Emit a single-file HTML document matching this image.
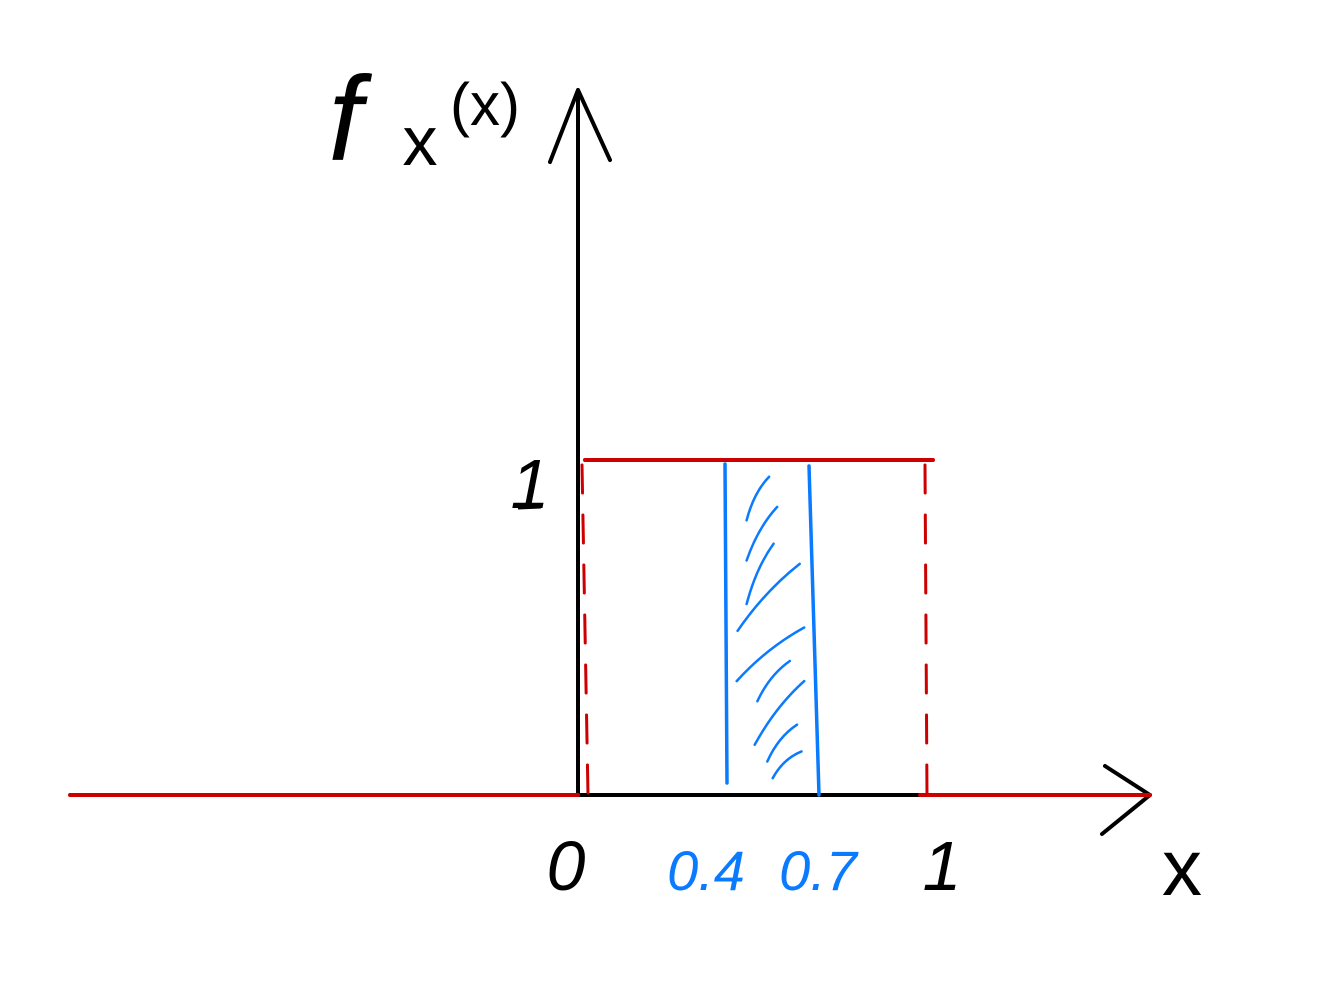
<!DOCTYPE html>
<html><head><meta charset="utf-8">
<style>
html,body{margin:0;padding:0;background:#fff;}
svg{display:block;}
text{font-family:"Liberation Sans",sans-serif;}
</style></head>
<body>
<svg id="chart" width="1336" height="999" viewBox="0 0 1336 999" xmlns="http://www.w3.org/2000/svg">
  <g id="axes"></g>
  <g id="marks"></g>
  <g id="labels"></g>
</svg>
<script>
const supportBounds = [0, 1];
const densityValue = [1];
const shadedInterval = [0.4, 0.7];
const xTickLabels = ["0", "0.4", "0.7", "1"];
const xTickValues = [0, 0.4, 0.7, 1];
const yTickLabels = ["1"];
const yTickValues = [1];

const NS = "http://www.w3.org/2000/svg";
const X0 = 578, XS = 350, Y0 = 795, YS = 335;
const sx = v => X0 + v * XS;
const sy = v => Y0 - v * YS;
const RED = "#cc0000", BLUE = "#0a7aff", BLACK = "#000";

function el(tag, attrs, parent) {
  const e = document.createElementNS(NS, tag);
  for (const k in attrs) e.setAttribute(k, attrs[k]);
  parent.appendChild(e);
  return e;
}
const axes = document.getElementById("axes");
const marks = document.getElementById("marks");
const labels = document.getElementById("labels");
const common = {"stroke-linecap": "round", "stroke-linejoin": "round", fill: "none"};

let e = el("path", Object.assign({d: "M578 795 L578 90 M550 162 L578 90 L610 160", stroke: BLACK, "stroke-width": 4}, common), axes);


e = el("path", Object.assign({d: "M578 795 L1150 795 M1105 766 L1150 795 L1102 834", stroke: BLACK, "stroke-width": 4}, common), axes);



const a = supportBounds[0], b = supportBounds[1], d = densityValue[0];
e = el("path", Object.assign({d: `M70 ${sy(0)} L${sx(a)} ${sy(0)}`, stroke: RED, "stroke-width": 4}, common), marks);


e = el("path", Object.assign({d: `M${sx(b) - 8} ${sy(0)} L1150 ${sy(0)}`, stroke: RED, "stroke-width": 4}, common), marks);


e = el("path", Object.assign({d: `M${sx(a) + 7} ${sy(d)} L${sx(b) + 5} ${sy(d)}`, stroke: RED, "stroke-width": 4}, common), marks);


[a, b].forEach((v, i) => {
  const off = i === 0 ? 4 : -3;
  const ln = el("line", {x1: sx(v) + off, y1: sy(d) + 5, x2: sx(v) + off + (i === 0 ? 6 : 2), y2: sy(0), stroke: RED, "stroke-width": 3, "stroke-dasharray": "28 22", "stroke-linecap": "round"}, marks);
  
  
});

const p = sx(shadedInterval[0]) + 7, q = sx(shadedInterval[1]) - 8;
e = el("line", {x1: p, y1: sy(d) + 4, x2: p + 2, y2: sy(0) - 12, stroke: BLUE, "stroke-width": 3.5, "stroke-linecap": "round"}, marks);


e = el("line", {x1: q - 6, y1: sy(d) + 6, x2: q + 4, y2: sy(0), stroke: BLUE, "stroke-width": 3.5, "stroke-linecap": "round"}, marks);


// hatching strokes: [xFrac1, yVal1, xFrac2, yVal2] within interval
const hatch = [[0.24,0.82,0.49,0.95],[0.24,0.70,0.58,0.86],[0.24,0.57,0.54,0.75],[0.14,0.49,0.83,0.69],[0.13,0.34,0.88,0.50],[0.36,0.28,0.72,0.40],[0.33,0.15,0.88,0.34],[0.47,0.10,0.80,0.21],[0.53,0.05,0.85,0.13]];
hatch.forEach(h => {
  const w = q - p;
  const x1 = p + h[0]*w, y1 = sy(h[1]), x2 = p + h[2]*w, y2 = sy(h[3]);
  const ln = el("path", Object.assign({d: `M${x1} ${y1} Q ${(x1+x2)/2 - 4} ${(y1+y2)/2 - 6} ${x2} ${y2}`, stroke: BLUE, "stroke-width": 2.5}, common), marks);
  
  
});

function txt(s, x, y, size, color, name, style) {
  const t = el("text", {x: x, y: y, "font-size": size, fill: color, "text-anchor": "middle", "font-style": style || "italic"}, labels);
  t.textContent = s;
  
  
  return t;
}
yTickValues.forEach((v, i) => txt(yTickLabels[i], 530, sy(v) + 48, 70, BLACK, "y-tick-label-" + yTickLabels[i]));
e = el("line", {x1: 518, y1: 508, x2: 541, y2: 507, stroke: BLACK, "stroke-width": 3}, labels);


xTickValues.forEach((v, i) => {
  const blue = v > 0 && v < 1;
  const x = v === 0 ? 566 : v === 1 ? 942 : (v === 0.4 ? 706 : 818);
  txt(xTickLabels[i], x, 890, blue ? 56 : 70, blue ? BLUE : BLACK, "x-tick-label-" + xTickLabels[i]);
});
txt("x", 1182, 895, 80, BLACK, "x-axis-title", "normal");
txt("f", 345, 160, 120, BLACK, "y-axis-title-f");
txt("x", 420, 165, 70, BLACK, "y-axis-title-subscript", "normal");
txt("(x)", 485, 125, 60, BLACK, "y-axis-title-arg", "normal");
</script>
</body></html>
